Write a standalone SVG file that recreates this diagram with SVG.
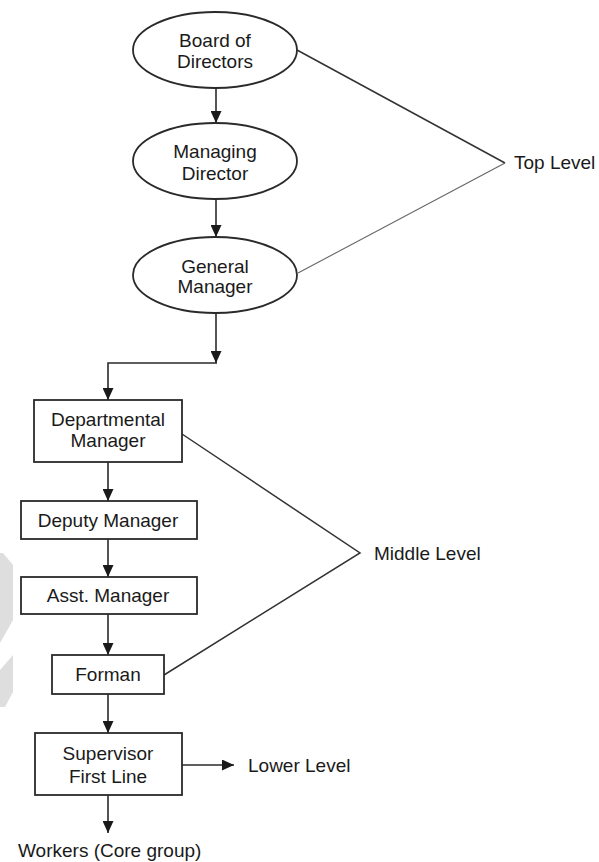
<svg xmlns="http://www.w3.org/2000/svg" width="599" height="862" viewBox="0 0 599 862">
<defs>
<style>
text{font-family:"Liberation Sans",Arial,sans-serif;font-size:19px;fill:#1a1a1a;}
.c{text-anchor:middle;}
.shape{fill:#fff;stroke:#2a2a2a;stroke-width:1.8;}
.conn{fill:none;stroke:#2a2a2a;stroke-width:1.6;}
.br{fill:none;stroke:#333;stroke-width:1.5;}
.br2{fill:none;stroke:#666;stroke-width:1.1;}
</style>
<marker id="ah" viewBox="0 0 12 11" refX="12" refY="5.5" markerWidth="12" markerHeight="11" markerUnits="userSpaceOnUse" orient="auto">
<path d="M0,0 L12,5.5 L0,11 Z" fill="#1a1a1a"/>
</marker>
</defs>
<rect width="599" height="862" fill="#fff"/>
<g id="watermark" fill="#dedede">
<polygon points="0,553 3,553 13,565 13,620 0,643"/>
<polygon points="0,670 13,655 13,692 5,707 0,707"/>
</g>
<g id="connectors">
<line class="conn" x1="216" y1="88" x2="216" y2="123" marker-end="url(#ah)"/>
<line class="conn" x1="216" y1="200" x2="216" y2="237" marker-end="url(#ah)"/>
<polyline class="conn" points="216,313 216,363" marker-end="url(#ah)"/>
<polyline class="conn" points="217,363 108,363 108,400" marker-end="url(#ah)"/>
<line class="conn" x1="108" y1="462" x2="108" y2="501" marker-end="url(#ah)"/>
<line class="conn" x1="108" y1="539" x2="108" y2="577" marker-end="url(#ah)"/>
<line class="conn" x1="108" y1="614" x2="108" y2="655" marker-end="url(#ah)"/>
<line class="conn" x1="108" y1="694" x2="108" y2="733" marker-end="url(#ah)"/>
<line class="conn" x1="182" y1="765" x2="234" y2="765" marker-end="url(#ah)"/>
<line class="conn" x1="108" y1="795" x2="108" y2="833" marker-end="url(#ah)"/>
<polyline class="br" points="297,50 505,163"/>
<polyline class="br2" points="505,163 298,273"/>
<polyline class="br" points="182,434 360,553 164,675"/>
</g>
<g id="board">
<ellipse class="shape" cx="215" cy="50" rx="82" ry="38"/>
<text class="c" x="215" y="47">Board of</text>
<text class="c" x="215" y="68">Directors</text>
</g>
<g id="md">
<ellipse class="shape" cx="215" cy="161" rx="82" ry="38"/>
<text class="c" x="215" y="158">Managing</text>
<text class="c" x="215" y="180">Director</text>
</g>
<g id="gm">
<ellipse class="shape" cx="215" cy="275" rx="82" ry="38"/>
<text class="c" x="215" y="273">General</text>
<text class="c" x="215" y="293">Manager</text>
</g>
<g id="dept">
<rect class="shape" x="34" y="400" width="148" height="62"/>
<text class="c" x="108" y="426">Departmental</text>
<text class="c" x="108" y="447">Manager</text>
</g>
<g id="deputy">
<rect class="shape" x="21" y="501" width="176" height="38"/>
<text class="c" x="108" y="527">Deputy Manager</text>
</g>
<g id="asst">
<rect class="shape" x="21" y="577" width="176" height="37"/>
<text class="c" x="108" y="602">Asst. Manager</text>
</g>
<g id="forman">
<rect class="shape" x="52" y="655" width="112" height="39"/>
<text class="c" x="108" y="681">Forman</text>
</g>
<g id="supervisor">
<rect class="shape" x="35" y="733" width="147" height="62"/>
<text class="c" x="108" y="760">Supervisor</text>
<text class="c" x="108" y="783">First Line</text>
</g>
<g id="labels">
<text x="514" y="169">Top Level</text>
<text x="374" y="560">Middle Level</text>
<text x="248" y="772">Lower Level</text>
<text x="18" y="857">Workers (Core group)</text>
</g>
</svg>
